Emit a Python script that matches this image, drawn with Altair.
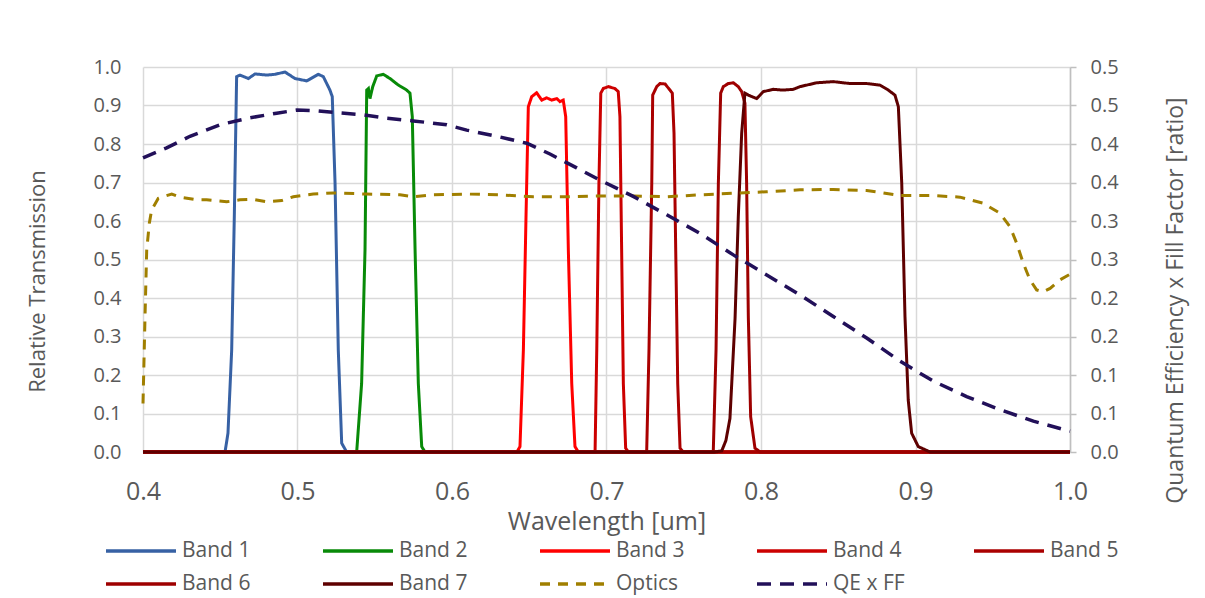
import altair as alt
import pandas as pd

# ---------------- data ----------------
band1_w = [0.400, 0.4531, 0.4550, 0.4574, 0.4591, 0.4606, 0.4628, 0.4682, 0.4725, 0.4801, 0.4854, 0.4919,
           0.4984, 0.5060, 0.5135, 0.5167, 0.5210, 0.5225, 0.5243, 0.5264, 0.5286, 0.5318, 1.000]
band1_v = [0.000, 0.000, 0.049, 0.265, 0.611, 0.975, 0.979, 0.970, 0.982, 0.979, 0.981, 0.987,
           0.970, 0.964, 0.981, 0.975, 0.940, 0.923, 0.699, 0.265, 0.023, 0.000, 0.000]

band2_w = [0.400, 0.5383, 0.5415, 0.5437, 0.5448, 0.5459, 0.5469, 0.5487, 0.5513, 0.5555, 0.5599, 0.5653,
           0.5707, 0.5728, 0.5743, 0.5761, 0.5782, 0.5804, 0.5825, 1.000]
band2_v = [0.000, 0.000, 0.178, 0.525, 0.940, 0.944, 0.918, 0.949, 0.977, 0.981, 0.970, 0.953,
           0.940, 0.932, 0.871, 0.525, 0.178, 0.014, 0.000, 0.000]

band3_w = [0.400, 0.6420, 0.6440, 0.6462, 0.6479, 0.6494, 0.6516, 0.6548, 0.6581, 0.6613, 0.6645, 0.6678,
           0.6699, 0.6720, 0.6736, 0.6753, 0.6775, 0.6796, 0.6818, 1.000]
band3_v = [0.000, 0.000, 0.014, 0.265, 0.611, 0.897, 0.923, 0.933, 0.914, 0.920, 0.914, 0.918,
           0.910, 0.914, 0.871, 0.525, 0.178, 0.014, 0.000, 0.000]

band4_w = [0.400, 0.6926, 0.6937, 0.6951, 0.6963, 0.6979, 0.7012, 0.7055, 0.7076, 0.7087, 0.7098, 0.7109,
           0.7124, 0.7141, 1.000]
band4_v = [0.000, 0.000, 0.265, 0.698, 0.932, 0.944, 0.949, 0.944, 0.936, 0.871, 0.525, 0.178,
           0.010, 0.000, 0.000]

band5_w = [0.400, 0.7260, 0.7275, 0.7293, 0.7299, 0.7325, 0.7346, 0.7379, 0.7411, 0.7426, 0.7437, 0.7448,
           0.7461, 0.7476, 0.7497, 1.000]
band5_v = [0.000, 0.000, 0.265, 0.698, 0.927, 0.949, 0.957, 0.956, 0.940, 0.932, 0.828, 0.525,
           0.178, 0.010, 0.000, 0.000]

band6_w = [0.400, 0.7691, 0.7709, 0.7724, 0.7739, 0.7756, 0.7788, 0.7821, 0.7853, 0.7875, 0.7896, 0.7907,
           0.7918, 0.7933, 0.7961, 0.7994, 1.000]
band6_v = [0.000, 0.000, 0.265, 0.698, 0.932, 0.949, 0.957, 0.959, 0.949, 0.936, 0.906, 0.698,
           0.351, 0.092, 0.010, 0.000, 0.000]

band7_w = [0.400, 0.7702, 0.7746, 0.7773, 0.7799, 0.7832, 0.7853, 0.7875, 0.7896, 0.7918, 0.7972, 0.8015,
           0.8080, 0.8144, 0.8209, 0.8252, 0.8361, 0.8468, 0.8576, 0.8684, 0.8770, 0.8824, 0.8867,
           0.8889, 0.8911, 0.8932, 0.8953, 0.8975, 0.9018, 0.9094, 1.000]
band7_v = [0.000, 0.000, 0.003, 0.030, 0.087, 0.346, 0.611, 0.828, 0.932, 0.927, 0.918, 0.936,
           0.942, 0.940, 0.942, 0.949, 0.959, 0.962, 0.957, 0.957, 0.953, 0.940, 0.927,
           0.897, 0.698, 0.351, 0.135, 0.049, 0.014, 0.000, 0.000]

optics_w = [0.4000, 0.4013, 0.4024, 0.4041, 0.4056, 0.4099, 0.4186, 0.4239, 0.4348, 0.4412, 0.4542, 0.4628,
            0.4714, 0.4801, 0.4898, 0.4973, 0.5102, 0.5232, 0.5448, 0.5663, 0.5750, 0.5879, 0.6095,
            0.6311, 0.6526, 0.6742, 0.6958, 0.7173, 0.7390, 0.7605, 0.7821, 0.8037, 0.8252, 0.8468,
            0.8684, 0.8792, 0.8900, 0.9115, 0.9288, 0.9439, 0.9547, 0.9612, 0.9655, 0.9698, 0.9741,
            0.9784, 0.9827, 0.9871, 0.9935, 1.0000]
optics_v = [0.126, 0.351, 0.525, 0.594, 0.629, 0.659, 0.670, 0.662, 0.655, 0.655, 0.650, 0.655,
            0.656, 0.650, 0.653, 0.663, 0.670, 0.673, 0.670, 0.668, 0.663, 0.668, 0.670,
            0.668, 0.663, 0.663, 0.665, 0.665, 0.663, 0.668, 0.672, 0.676, 0.681, 0.682,
            0.679, 0.673, 0.666, 0.666, 0.662, 0.646, 0.620, 0.585, 0.542, 0.490, 0.447,
            0.421, 0.416, 0.425, 0.447, 0.462]

# QE x FF, right axis (ratio)
qe_w = [0.4000, 0.4153, 0.4304, 0.4498, 0.4693, 0.4865, 0.4995, 0.5124, 0.5232, 0.5426, 0.5555, 0.5750,
        0.5966, 0.6095, 0.6311, 0.6484, 0.6634, 0.6807, 0.6958, 0.7173, 0.7390, 0.7605, 0.7821,
        0.8037, 0.8252, 0.8468, 0.8684, 0.8900, 0.9115, 0.9331, 0.9547, 0.9763, 1.0000]
qe_v = [0.382, 0.395, 0.410, 0.425, 0.434, 0.440, 0.444, 0.443, 0.441, 0.438, 0.434, 0.430,
        0.425, 0.418, 0.409, 0.401, 0.387, 0.369, 0.353, 0.332, 0.308, 0.284, 0.256,
        0.230, 0.204, 0.176, 0.148, 0.118, 0.092, 0.072, 0.055, 0.040, 0.027]

series_names = ["Band 1", "Band 2", "Band 3", "Band 4", "Band 5", "Band 6", "Band 7", "Optics", "QE x FF"]
series_colors = ["#3761A4", "#088A08", "#FF0000", "#CC0000", "#AA0000", "#9E0000", "#5E0000", "#A07F00", "#221059"]
series_dash = [[1, 0]] * 7 + [[10, 8], [14, 9]]

x_ticks = [0.4, 0.5, 0.6, 0.7, 0.8, 0.9, 1.0]
y_ticks = [0.0, 0.1, 0.2, 0.3, 0.4, 0.5, 0.6, 0.7, 0.8, 0.9, 1.0]
y2_ticks = [0.0, 0.05, 0.1, 0.15, 0.2, 0.25, 0.3, 0.35, 0.4, 0.45, 0.5]

# ---------------- build tables ----------------
band_lists = [(band1_w, band1_v), (band2_w, band2_v), (band3_w, band3_v), (band4_w, band4_v),
              (band5_w, band5_v), (band6_w, band6_v), (band7_w, band7_v), (optics_w, optics_v)]
rows = []
for si, (ws, vs) in enumerate(band_lists):
    for pi, (w, v) in enumerate(zip(ws, vs)):
        rows.append({"w": w, "v": v, "series": series_names[si], "s": si, "p": pi})
left_df = pd.DataFrame(rows)
qe_df = pd.DataFrame({"w": qe_w, "v": qe_v, "series": "QE x FF", "s": 8, "p": list(range(len(qe_w)))})

GRAY = "#595959"
FONT = "Open Sans"

x_enc = alt.X("w:Q", scale=alt.Scale(domain=[0.4, 1.0], nice=False, zero=False),
              axis=alt.Axis(values=x_ticks, format=".1f", title="Wavelength [um]",
                            labelFontSize=25, titleFontSize=25, labelPadding=27, titlePadding=5,
                            labelFlush=False, labelOverlap=False,
                            ticks=False, domain=False, grid=True, gridColor="#D9D9D9", gridWidth=1.5,
                            labelColor=GRAY, titleColor=GRAY, titleFontWeight="normal"))

color_enc = alt.Color("series:N", scale=alt.Scale(domain=series_names, range=series_colors),
                      legend=alt.Legend(title=None, orient="none", legendX=-14, legendY=472,
                                        direction="horizontal", columns=5, symbolType="M-3.5,0H3.5",
                                        symbolSize=400, symbolStrokeWidth=3.5, labelFontSize=21,
                                        labelColor=GRAY, labelFont=FONT, labelOffset=29,
                                        columnPadding=62, rowPadding=11, gridAlign="all", padding=0))
dash_enc = alt.StrokeDash("series:N", scale=alt.Scale(domain=series_names, range=series_dash), legend=None)

bands = alt.Chart(left_df).mark_line(strokeWidth=3, strokeCap="butt").encode(
    x=x_enc,
    y=alt.Y("v:Q", scale=alt.Scale(domain=[0, 1], nice=False),
            axis=alt.Axis(values=y_ticks, format=".1f", title="Relative Transmission",
                          labelFontSize=20, titleFontSize=22, labelPadding=22,
                          titleX=-106, titleY=214, titleAngle=270, titleBaseline="middle", titleAlign="center",
                          ticks=False, domain=False, grid=True, gridColor="#D9D9D9", gridWidth=1.5,
                          labelColor=GRAY, titleColor=GRAY, titleFontWeight="normal")),
    color=color_enc,
    strokeDash=dash_enc,
    detail="s:O",
    order="p:Q",
)

qe = alt.Chart(qe_df).mark_line(strokeWidth=3.5, strokeCap="butt").encode(
    x=x_enc,
    y=alt.Y("v:Q", scale=alt.Scale(domain=[0, 0.5], nice=False),
            axis=alt.Axis(orient="right", values=y2_ticks, title="Quantum Efficiency x Fill Factor [ratio]",
                          labelExpr="format(round(datum.value*10+0.000001)/10, '.1f')",
                          labelFontSize=20, titleFontSize=23, labelPadding=14,
                          titleX=105, titleY=233, titleAngle=270, titleBaseline="middle", titleAlign="center",
                          ticks=True, tickSize=6, tickColor="#BFBFBF", tickWidth=1.5,
                          domain=True, domainColor="#BFBFBF", domainWidth=1.5, grid=False,
                          labelColor=GRAY, titleColor=GRAY, titleFontWeight="normal")),
    color=color_enc,
    strokeDash=dash_enc,
    order="p:Q",
)

chart = alt.layer(bands, qe).resolve_scale(y="independent").properties(
    width=927, height=385,
    padding={"left": 135, "top": 59, "right": 120, "bottom": 148},
    autosize=alt.AutoSizeParams(type="none"),
).configure(font=FONT).configure_view(stroke=None)

chart.save("out.html", embed_options={"renderer": "svg", "actions": False})
